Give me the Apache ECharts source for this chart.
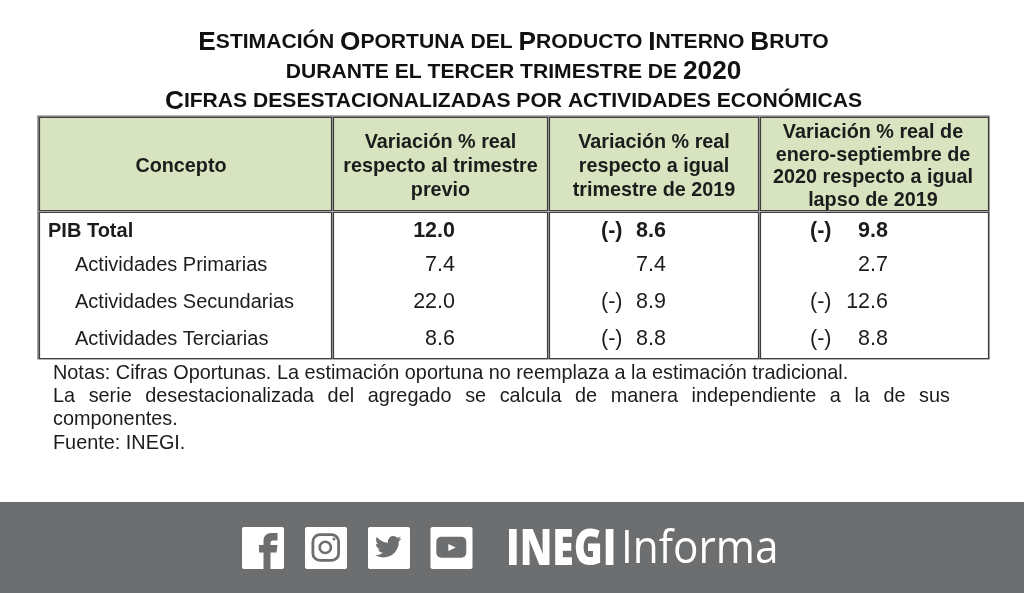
<!DOCTYPE html>
<html>
<head>
<meta charset="utf-8">
<style>
  html, body { margin: 0; padding: 0; background: #fff; }
  #chart { width: 1024px; height: 593px; }
</style>
<script src="https://cdn.jsdelivr.net/npm/echarts@6/dist/echarts.min.js"></script>
</head>
<body>
<div id="chart"></div>
<script>
// table content
const titleLines = [
  'Estimación Oportuna del Producto Interno Bruto',
  'durante el tercer trimestre de 2020',
  'Cifras desestacionalizadas por actividades económicas'
]
const headers = [
  'Concepto',
  'Variación % real\nrespecto al trimestre\nprevio',
  'Variación % real\nrespecto a igual\ntrimestre de 2019',
  'Variación % real de\nenero-septiembre de\n2020 respecto a igual\nlapso de 2019'
]
const concepts = ['PIB Total', 'Actividades Primarias', 'Actividades Secundarias', 'Actividades Terciarias']
const prevQuarter = [12.0, 7.4, 22.0, 8.6]
const sameQuarter = [-8.6, 7.4, -8.9, -8.8]
const janSep = [-9.8, 2.7, -12.6, -8.8]
const notes = [
  'Notas: Cifras Oportunas. La estimación oportuna no reemplaza a la estimación tradicional.',
  'La serie desestacionalizada del agregado se calcula de manera independiente a la de sus',
  'componentes.',
  'Fuente: INEGI.'
]

// table layout, in table units (1 unit = 1px)
const colEdges = [0, 294, 510, 721, 951]
const rowEdges = [0, 95, 243]
const rowCenters = [115.5, 149.5, 186.5, 223.5]
const headerCenters = [143, 402.5, 616, 835]
const valueRight = [417, 628, 850]
const signLeft = [null, 563, 772]

const FONT = '"Liberation Sans", Arial, sans-serif'
const INK = '#1c1c1c'
const BAND = '#6d6e70'

const chart = echarts.init(document.getElementById('chart'), null, { renderer: 'canvas' })

// small caps: real capitals and digits stay large, the rest shrinks
function smallCaps(line) {
  return line.split(/([A-ZÁÉÍÓÚ0-9]+)/).filter(Boolean).map(s =>
    /^[A-ZÁÉÍÓÚ0-9]+$/.test(s) ? '{a|' + s + '}' : '{b|' + s.toUpperCase() + '}'
  ).join('')
}

const cellList = []
for (let c = 0; c < 4; c++) {
  cellList.push([c, 0])
  cellList.push([c, 1])
}

function renderCell(params, api) {
  const c = api.value(0)
  const r = api.value(1)
  const tl = api.coord([colEdges[c], rowEdges[r]])
  const br = api.coord([colEdges[c + 1], rowEdges[r + 1]])
  return {
    type: 'rect',
    shape: { x: tl[0] + 1.5, y: tl[1] + 1.5, width: br[0] - tl[0] - 2, height: br[1] - tl[1] - 2 },
    style: { fill: r === 0 ? '#d8e3bf' : '#fff', stroke: '#3f3f3f', lineWidth: 1.2 }
  }
}

function renderHeader(params, api) {
  const c = api.value(0)
  const p = api.coord([headerCenters[c], rowEdges[1] / 2])
  return {
    type: 'text',
    style: {
      x: p[0], y: p[1] + 3, text: headers[c], align: 'center', verticalAlign: 'middle',
      font: 'bold 19.8px ' + FONT, lineHeight: c === 3 ? 22.8 : 23.7, fill: INK
    }
  }
}

function renderConcept(params, api) {
  const r = api.value(0)
  const p = api.coord([r === 0 ? 10 : 37, rowCenters[r]])
  return {
    type: 'text',
    style: {
      x: p[0], y: p[1], text: concepts[r], align: 'left', verticalAlign: 'middle',
      font: (r === 0 ? 'bold ' : '') + '20px ' + FONT, fill: INK
    }
  }
}

function renderValue(params, api) {
  const c = api.value(0)
  const r = api.value(1)
  const v = api.value(2)
  const weight = r === 0 ? 'bold ' : ''
  const p = api.coord([valueRight[c], rowCenters[r]])
  const children = [{
    type: 'text',
    style: {
      x: p[0], y: p[1], text: Math.abs(v).toFixed(1), align: 'right', verticalAlign: 'middle',
      font: weight + '21.5px ' + FONT, fill: INK
    }
  }]
  if (v < 0) {
    const s = api.coord([signLeft[c], rowCenters[r]])
    children.push({
      type: 'text',
      style: {
        x: s[0], y: s[1], text: '(-)', align: 'left', verticalAlign: 'middle',
        font: weight + '21.5px ' + FONT, fill: INK
      }
    })
  }
  return { type: 'group', children }
}

const valueRows = []
;[prevQuarter, sameQuarter, janSep].forEach((col, c) => {
  col.forEach((v, r) => valueRows.push([c, r, v]))
})

// notes block; the second line is justified word by word like the source
function noteElements() {
  const font = '19.85px ' + FONT
  const ctx = document.createElement('canvas').getContext('2d')
  ctx.font = font
  const ys = [374, 397, 420, 444]
  const out = []
  notes.forEach((line, i) => {
    if (i !== 1) {
      out.push({ type: 'text', x: 53, y: ys[i], style: { text: line, font, fill: INK, verticalAlign: 'middle' } })
      return
    }
    const words = line.split(' ')
    const used = words.reduce((a, w) => a + ctx.measureText(w).width, 0)
    const gap = (950 - 53 - used) / (words.length - 1)
    let x = 53
    words.forEach(w => {
      out.push({ type: 'text', x, y: ys[i], style: { text: w, font, fill: INK, verticalAlign: 'middle' } })
      x += ctx.measureText(w).width + gap
    })
  })
  return out
}

// footer band icons
function iconSquare(x) {
  return { type: 'rect', shape: { x, y: 527, width: 42, height: 42, r: 2 }, style: { fill: '#fff' } }
}
const fbPath = 'M263.5 569V552.5H259V545H263.5V541C263.5 536 266.5 533 271.5 533H277.5V540.5H273C271.3 540.5 270.5 541.3 270.5 543V545H277.5L276.5 552.5H270.5V569Z'
const twPath = 'M23.953 4.57a10 10 0 0 1-2.825.775a4.958 4.958 0 0 0 2.163-2.723c-.951.555-2.005.959-3.127 1.184a4.92 4.92 0 0 0-8.384 4.482C7.69 8.095 4.067 6.13 1.64 3.162a4.822 4.822 0 0 0-.666 2.475c0 1.71.87 3.213 2.188 4.096a4.904 4.904 0 0 1-2.228-.616v.06a4.923 4.923 0 0 0 3.946 4.827a4.996 4.996 0 0 1-2.212.085a4.936 4.936 0 0 0 4.604 3.417a9.867 9.867 0 0 1-6.102 2.105c-.39 0-.779-.023-1.17-.067a13.995 13.995 0 0 0 7.557 2.209c9.053 0 13.998-7.496 13.998-13.985c0-.21 0-.42-.015-.63A9.935 9.935 0 0 0 24 4.59z'

const footer = [
  { type: 'rect', shape: { x: 0, y: 502, width: 1024, height: 91 }, style: { fill: BAND } },
  iconSquare(242), iconSquare(305), iconSquare(368), iconSquare(430.5),
  { type: 'rect', shape: { x: 312.9, y: 534.7, width: 25.7, height: 25.7, r: 7 }, style: { fill: 'none', stroke: BAND, lineWidth: 2.8 } },
  { type: 'circle', shape: { cx: 325.3, cy: 547.4, r: 5.6 }, style: { fill: 'none', stroke: BAND, lineWidth: 2.6 } },
  { type: 'circle', shape: { cx: 334, cy: 539, r: 1.5 }, style: { fill: BAND } },
  { type: 'rect', shape: { x: 436.3, y: 536.7, width: 30, height: 21, r: 5 }, style: { fill: BAND } },
  { type: 'polygon', shape: { points: [[448.3, 544], [448.3, 551], [455.7, 547.5]] }, style: { fill: '#fff' } },
  { type: 'text', x: 506, y: 551, scaleX: 0.8, style: { text: 'INEGI', font: '900 49px "Open Sans", ' + FONT, fill: '#fff', verticalAlign: 'middle' } },
  { type: 'text', x: 621, y: 550, scaleX: 0.94, style: { text: 'Informa', font: '400 45px "Open Sans", ' + FONT, fill: '#fff', verticalAlign: 'middle' } }
]

// graphic component has no path type, the two glyph icons go through a custom series
function renderIcon(params, api) {
  return api.value(0) === 0
    ? { type: 'path', shape: { pathData: fbPath, layout: 'cover', x: 259, y: 533, width: 18.5, height: 36 }, style: { fill: BAND }, z2: 5 }
    : { type: 'path', shape: { pathData: twPath, layout: 'center', x: 375, y: 533.5, width: 26.5, height: 26.5 }, style: { fill: BAND }, z2: 5 }
}

const titleRich = {
  a: { font: 'bold 26.2px ' + FONT, fill: '#111' },
  b: { font: 'bold 21.1px ' + FONT, fill: '#111' }
}

const titles = titleLines.map((line, i) => ({
  type: 'text',
  x: 513.5,
  y: [42.5, 72, 101.5][i],
  style: { text: smallCaps(line), align: 'center', verticalAlign: 'middle', rich: titleRich }
}))

chart.setOption({
  animation: false,
  backgroundColor: '#fff',
  grid: { left: 38, top: 116, width: 951, height: 243 },
  xAxis: { type: 'value', min: 0, max: 951, show: false },
  yAxis: { type: 'value', min: 0, max: 243, inverse: true, show: false },
  graphic: { elements: titles.concat(noteElements(), footer) },
  series: [
    { name: 'marco', type: 'custom', silent: true, data: [[0]], renderItem: (p, api) => {
      const tl = api.coord([0, 0])
      const br = api.coord([951, 243])
      return {
        type: 'rect',
        shape: { x: tl[0], y: tl[1], width: br[0] - tl[0], height: br[1] - tl[1] },
        style: { fill: '#a8a8a8', stroke: '#666', lineWidth: 1.2 }
      }
    } },
    { name: 'celdas', type: 'custom', silent: true, data: cellList, renderItem: renderCell },
    { name: 'encabezados', type: 'custom', silent: true, data: headers.map((h, i) => [i]), renderItem: renderHeader },
    { name: 'conceptos', type: 'custom', silent: true, data: concepts.map((h, i) => [i]), renderItem: renderConcept },
    { name: 'valores', type: 'custom', silent: true, data: valueRows, renderItem: renderValue },
    { name: 'iconos', type: 'custom', silent: true, z: 20, data: [[0], [1]], renderItem: renderIcon }
  ]
})
</script>
</body>
</html>
